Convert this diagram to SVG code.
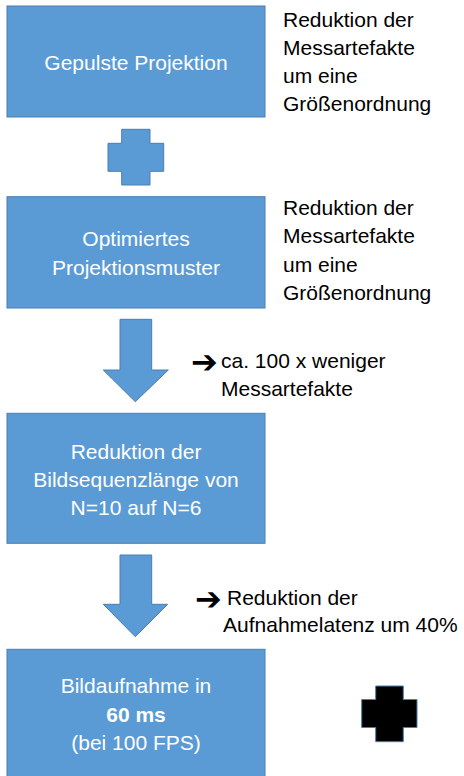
<svg xmlns="http://www.w3.org/2000/svg" width="464" height="776" viewBox="0 0 464 776">
<style>
.box{fill:#5B9BD5;stroke:#4A7EB0;stroke-width:1}
.shape{fill:#5B9BD5;stroke:#4A7EB0;stroke-width:1}
.wt{font-family:"Liberation Sans",Arial,sans-serif;font-size:21px;fill:#FFFFFF;text-anchor:middle}
.bt{font-family:"Liberation Sans",Arial,sans-serif;font-size:21px;fill:#000000}
.ar{font-family:"DejaVu Sans",sans-serif;font-size:32px;font-weight:bold;fill:#000000}
</style>
<rect width="464" height="776" fill="#FFFFFF"/>
<g id="node-gepulste">
<rect class="box" x="7" y="6" width="258" height="111"/>
<text class="wt" x="136" y="70">Gepulste Projektion</text>
</g>
<g id="note-1">
<text class="bt" x="283" y="27">Reduktion der</text>
<text class="bt" x="283" y="55">Messartefakte</text>
<text class="bt" x="283" y="83">um eine</text>
<text class="bt" x="283" y="111">Größenordnung</text>
</g>
<g id="plus-1">
<path class="shape" d="M121.7,129.3 H150 V143.3 H163.7 V171.3 H150 V185 H121.7 V171.3 H108 V143.3 H121.7 Z"/>
</g>
<g id="node-optimiert">
<rect class="box" x="7" y="196.7" width="258" height="111.3"/>
<text class="wt" x="136" y="246">Optimiertes</text>
<text class="wt" x="136" y="275">Projektionsmuster</text>
</g>
<g id="note-2">
<text class="bt" x="283" y="215">Reduktion der</text>
<text class="bt" x="283" y="243">Messartefakte</text>
<text class="bt" x="283" y="272">um eine</text>
<text class="bt" x="283" y="300">Größenordnung</text>
</g>
<g id="node-reduktion">
<rect class="box" x="7" y="413.3" width="258" height="130"/>
<text class="wt" x="136" y="459">Reduktion der</text>
<text class="wt" x="136" y="487">Bildsequenzlänge von</text>
<text class="wt" x="136" y="515">N=10 auf N=6</text>
</g>
<g id="node-bildaufnahme">
<rect class="box" x="7" y="649.3" width="258" height="130"/>
<text class="wt" x="136" y="693">Bildaufnahme in</text>
<text class="wt" x="136" y="722" font-weight="bold">60 ms</text>
<text class="wt" x="136" y="750">(bei 100 FPS)</text>
</g>
<g id="plus-2">
<path d="M375.7,686 H403.3 V699.5 H417 V727.5 H403.3 V741.7 H375.7 V727.5 H361.7 V699.5 H375.7 Z" fill="#000000" stroke="#4A7EB0" stroke-width="1"/>
</g>
<g id="connectors">
<path class="shape" d="M120,319.3 H151.7 V370 H168.3 L135.3,401.7 L103.3,370 H120 Z"/>
<path class="shape" d="M120,555 H151.7 V604.3 H167.7 L135.3,636.7 L103.3,604.3 H120 Z"/>
</g>
<g id="label-1">
<text class="ar" x="191" y="373">➔</text>
<text class="bt" x="221" y="368">ca. 100 x weniger</text>
<text class="bt" x="221" y="396">Messartefakte</text>
</g>
<g id="label-2">
<text class="ar" x="195" y="610">➔</text>
<text class="bt" x="227" y="605">Reduktion der</text>
<text class="bt" x="223" y="632">Aufnahmelatenz um 40%</text>
</g>
</svg>
